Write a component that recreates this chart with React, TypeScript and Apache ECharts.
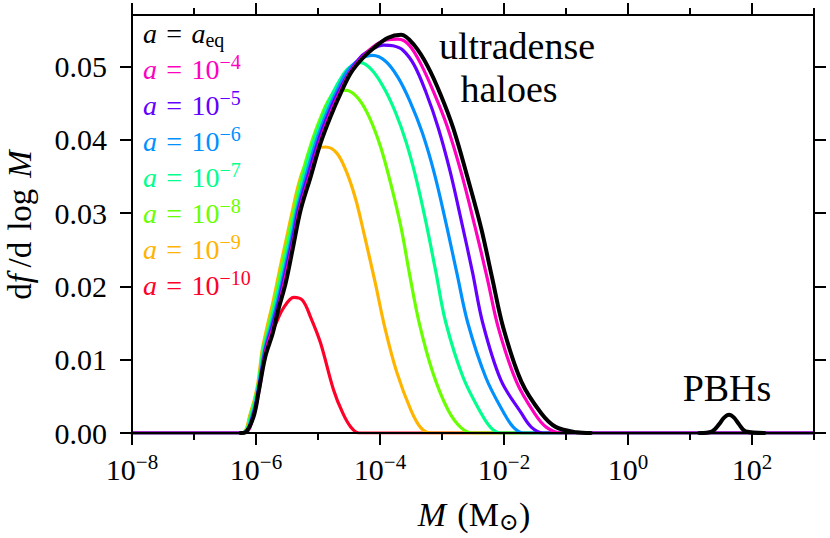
import React, { useEffect, useRef } from 'react';
import * as echarts from 'echarts';

const FONT = "'Liberation Serif', 'DejaVu Serif', serif";

// axes (x is log10 of M in solar masses)
const X_MIN = -8;
const X_MAX = 3;
const xMajorTicks = [-8, -6, -4, -2, 0, 2];
const xMinorTicks = [-7, -5, -3, -1, 1, 3];
const Y_MIN = 0;
const Y_MAX = 0.057;
const yTicks = [0, 0.01, 0.02, 0.03, 0.04, 0.05];

// legend entries: exponent of a (null -> a_eq)
const legendExponents: (number | null)[] = [null, -4, -5, -6, -7, -8, -9, -10];
const seriesColors = ['#000000', '#ff00bf', '#6400ff', '#0091ff', '#00ff8c', '#6aff00', '#ffb400', '#ff0029'];
const seriesWidths = [4, 3.2, 3.2, 3.2, 3.2, 3.2, 3.2, 3.2];

// [log10 M, df/dlogM]
const aEq: (number | null)[][] = [
  [-6.25, 0], [-6.17, 0.0001], [-6.04, 0.0022], [-5.96, 0.0055], [-5.85, 0.0104], [-5.73, 0.0136],
  [-5.64, 0.0168], [-5.52, 0.0205], [-5.41, 0.025], [-5.28, 0.0304], [-5.12, 0.0349], [-4.96, 0.0395],
  [-4.8, 0.0431], [-4.63, 0.0464], [-4.47, 0.0491], [-4.28, 0.0511], [-4.1, 0.0525], [-3.87, 0.0539],
  [-3.66, 0.0543], [-3.45, 0.0529], [-3.23, 0.05], [-3.02, 0.0461], [-2.82, 0.0416], [-2.6, 0.0352],
  [-2.37, 0.028], [-2.19, 0.0211], [-2.01, 0.0143], [-1.72, 0.007], [-1.4, 0.0027], [-1.16, 0.0008],
  [-0.83, 0.0001], [-0.6, 0], [-0.5, null], [1.1, null],
  [1.15, 0], [1.35, 0.0002], [1.47, 0.0012], [1.55, 0.0021], [1.63, 0.0025], [1.71, 0.0021],
  [1.79, 0.0012], [1.9, 0.0002], [2.2, 0],
];
const a1e4 = [
  [-8, 0], [-6.2, 0], [-6.03, 0.0027], [-5.94, 0.0063], [-5.84, 0.0113], [-5.72, 0.0145], [-5.61, 0.0181],
  [-5.49, 0.0226], [-5.37, 0.0273], [-5.3, 0.0304], [-5.12, 0.0355], [-4.96, 0.04], [-4.8, 0.0436],
  [-4.65, 0.0464], [-4.49, 0.0491], [-4.3, 0.0511], [-4.12, 0.0526], [-3.9, 0.0536], [-3.71, 0.0537],
  [-3.53, 0.0529], [-3.34, 0.0503], [-3.13, 0.0464], [-2.92, 0.0419], [-2.69, 0.0355], [-2.47, 0.0282],
  [-2.27, 0.0211], [-2.09, 0.0143], [-1.8, 0.007], [-1.51, 0.0027], [-1.32, 0.0008], [-1.07, 0], [3, 0],
];
const a1e5 = [
  [-8, 0], [-6.21, 0], [-6.04, 0.0027], [-5.95, 0.0063], [-5.85, 0.0113], [-5.74, 0.0145], [-5.63, 0.0181],
  [-5.51, 0.0226], [-5.39, 0.0273], [-5.32, 0.0304], [-5.15, 0.0355], [-4.99, 0.04], [-4.83, 0.0436],
  [-4.68, 0.0464], [-4.5, 0.0491], [-4.31, 0.0513], [-4.12, 0.0524], [-3.94, 0.0529], [-3.79, 0.0528],
  [-3.63, 0.0522], [-3.45, 0.0502], [-3.26, 0.0465], [-3.06, 0.0416], [-2.87, 0.0357], [-2.69, 0.029],
  [-2.51, 0.022], [-2.34, 0.0149], [-2.05, 0.0072], [-1.72, 0.0027], [-1.56, 0.0008], [-1.37, 0], [3, 0],
];
const a1e6 = [
  [-8, 0], [-6.22, 0], [-6.05, 0.0027], [-5.96, 0.0063], [-5.86, 0.0113], [-5.76, 0.0145], [-5.65, 0.0181],
  [-5.53, 0.0226], [-5.41, 0.0273], [-5.34, 0.0304], [-5.18, 0.0355], [-5.02, 0.04], [-4.86, 0.0436],
  [-4.71, 0.0464], [-4.54, 0.0492], [-4.34, 0.0509], [-4.12, 0.0515], [-3.91, 0.0507], [-3.71, 0.0485],
  [-3.52, 0.0453], [-3.32, 0.041], [-3.13, 0.0356], [-2.94, 0.0288], [-2.76, 0.0218], [-2.58, 0.0149],
  [-2.29, 0.0075], [-2.0, 0.0027], [-1.85, 0.0008], [-1.69, 0], [3, 0],
];
const a1e7 = [
  [-8, 0], [-6.23, 0], [-6.07, 0.0027], [-5.97, 0.0063], [-5.88, 0.0113], [-5.78, 0.0145], [-5.68, 0.0181],
  [-5.56, 0.0226], [-5.44, 0.0273], [-5.36, 0.0304], [-5.22, 0.0355], [-5.06, 0.04], [-4.9, 0.0436],
  [-4.76, 0.0464], [-4.63, 0.0484], [-4.5, 0.0498], [-4.31, 0.0505], [-4.12, 0.0494], [-3.92, 0.0468],
  [-3.74, 0.0435], [-3.58, 0.0397], [-3.42, 0.0348], [-3.26, 0.0288], [-3.1, 0.022], [-2.94, 0.0151],
  [-2.66, 0.0076], [-2.37, 0.0027], [-2.21, 0.0007], [-2.05, 0], [3, 0],
];
const a1e8 = [
  [-8, 0], [-6.23, 0], [-6.08, 0.0027], [-5.97, 0.0063], [-5.89, 0.0113], [-5.8, 0.0145], [-5.7, 0.0181],
  [-5.59, 0.0226], [-5.47, 0.0273], [-5.39, 0.0304], [-5.25, 0.0355], [-5.09, 0.04], [-4.93, 0.0436],
  [-4.8, 0.0458], [-4.67, 0.0468], [-4.52, 0.0467], [-4.34, 0.0455], [-4.17, 0.043], [-3.99, 0.039],
  [-3.83, 0.0341], [-3.66, 0.028], [-3.52, 0.0215], [-3.37, 0.0151], [-3.15, 0.0083], [-2.9, 0.0031],
  [-2.69, 0.0007], [-2.5, 0], [3, 0],
];
const a1e9 = [
  [-8, 0], [-6.24, 0], [-6.09, 0.0027], [-5.98, 0.0063], [-5.9, 0.0113], [-5.82, 0.0145], [-5.72, 0.0181],
  [-5.61, 0.0226], [-5.49, 0.0273], [-5.41, 0.0304], [-5.33, 0.0334], [-5.24, 0.0359], [-5.13, 0.0377],
  [-5.01, 0.0388], [-4.88, 0.039], [-4.7, 0.0382], [-4.54, 0.0356], [-4.39, 0.0318], [-4.25, 0.0269],
  [-4.08, 0.0206], [-3.92, 0.0143], [-3.73, 0.0083], [-3.5, 0.0031], [-3.34, 0.0007], [-3.18, 0], [3, 0],
];
const a1e10 = [
  [-8, 0], [-6.22, 0], [-6.09, 0.0025], [-5.98, 0.0059], [-5.88, 0.0104], [-5.78, 0.013], [-5.67, 0.0151],
  [-5.56, 0.017], [-5.39, 0.0185], [-5.25, 0.0181], [-5.12, 0.0158], [-4.96, 0.0123], [-4.75, 0.0059],
  [-4.6, 0.0027], [-4.47, 0.0008], [-4.34, 0], [3, 0],
];
const seriesData = [aEq, a1e4, a1e5, a1e6, a1e7, a1e8, a1e9, a1e10];

const annotations = [
  { text: 'ultradense', x: 517, y: 46 },
  { text: 'haloes', x: 509, y: 89 },
  { text: 'PBHs', x: 727, y: 388 },
];

const richBase = (size: number) => ({
  i: { fontFamily: FONT, fontStyle: 'italic', fontSize: size, lineHeight: size + 6 },
  r: { fontFamily: FONT, fontSize: size, lineHeight: size + 6 },
  sup: { fontFamily: FONT, fontSize: Math.round(size * 0.72), lineHeight: Math.round(size * 0.6), verticalAlign: 'top' },
  sub: { fontFamily: FONT, fontSize: Math.round(size * 0.72), lineHeight: Math.round(size * 0.68), verticalAlign: 'bottom' },
});

const EQ = '\u2004=\u2004';
const legendLabel = (e: number | null) =>
  e === null ? `{i|a}{r|${EQ}}{i|a}{sub|eq}` : `{i|a}{r|${EQ}10}{sup|\u2212${-e}}`;
const legendName = (e: number | null) => (e === null ? 'a = a_eq' : `a = 10^${e}`);

const powLabel = (v: number) => `{b|10}{s|${v < 0 ? '\u2212' + -v : v}}`;

export default function App() {
  const ref = useRef<HTMLDivElement>(null);
  useEffect(() => {
    if (!ref.current) return;
    const chart = echarts.init(ref.current, undefined, { renderer: 'svg' });
    const axisLineStyle = { color: '#000', width: 2 };
    const xAxisCommon = {
      type: 'value', min: X_MIN, max: X_MAX, z: 5,
      axisLine: { show: true, onZero: false, lineStyle: axisLineStyle },
      splitLine: { show: false },
    };
    const yAxisCommon = {
      type: 'value', min: Y_MIN, max: Y_MAX, z: 5,
      axisLine: { show: true, onZero: false, lineStyle: axisLineStyle },
      splitLine: { show: false },
    };
    const series: any[] = [];
    for (let i = seriesData.length - 1; i >= 0; i--) {
      series.push({
        name: legendName(legendExponents[i]),
        type: 'line',
        data: seriesData[i],
        showSymbol: false,
        smooth: 0.35,
        connectNulls: false,
        clip: true,
        lineStyle: { color: seriesColors[i], width: seriesWidths[i], join: 'round', cap: 'round' },
        itemStyle: { color: seriesColors[i] },
      });
    }
    const graphic: any[] = [];
    legendExponents.forEach((e, i) => {
      graphic.push({
        type: 'text', x: 143, y: 33 + 36 * i, z: 10,
        style: {
          text: legendLabel(e), rich: richBase(28), fill: seriesColors[i],
          fontFamily: FONT, fontSize: 28, align: 'left', verticalAlign: 'middle',
        },
      });
    });
    annotations.forEach((a) => {
      graphic.push({
        type: 'text', x: a.x, y: a.y, z: 10,
        style: { text: a.text, fill: '#000', fontFamily: FONT, fontSize: 38, align: 'center', verticalAlign: 'middle' },
      });
    });
    graphic.push({
      type: 'text', x: 474, y: 514, z: 10,
      style: { text: `{i|M}{r|\u2004(M}{sub|\u2299}{r|)}`, rich: richBase(34), fill: '#000', fontFamily: FONT, fontSize: 34, align: 'center', verticalAlign: 'middle' },
    });
    graphic.push({
      type: 'text', x: 20, y: 225, rotation: Math.PI / 2, z: 10,
      style: { text: '{r|d}{i|f\u2009}{r|/d\u2004log\u2004}{i|M}', rich: richBase(33), fill: '#000', fontFamily: FONT, fontSize: 33, align: 'center', verticalAlign: 'middle' },
    });

    chart.setOption({
      animation: false,
      backgroundColor: '#fff',
      grid: { left: 132, right: 16, top: 15, bottom: 105, containLabel: false },
      xAxis: [
        {
          ...xAxisCommon, position: 'bottom',
          axisTick: { show: true, inside: false, length: 12, lineStyle: axisLineStyle, customValues: xMajorTicks },
          axisLabel: {
            show: true, margin: 18, customValues: xMajorTicks, formatter: powLabel, color: '#000',
            rich: {
              b: { fontFamily: FONT, fontSize: 30, lineHeight: 36, color: '#000' },
              s: { fontFamily: FONT, fontSize: 21, lineHeight: 19, verticalAlign: 'top', color: '#000' },
            },
          },
        },
        {
          ...xAxisCommon, position: 'bottom',
          axisTick: { show: true, inside: false, length: 7, lineStyle: axisLineStyle, customValues: xMinorTicks },
          axisLabel: { show: false },
        },
        {
          ...xAxisCommon, position: 'top',
          axisTick: { show: true, inside: false, length: 12, lineStyle: axisLineStyle, customValues: xMajorTicks },
          axisLabel: { show: false },
        },
        {
          ...xAxisCommon, position: 'top',
          axisTick: { show: true, inside: false, length: 7, lineStyle: axisLineStyle, customValues: xMinorTicks },
          axisLabel: { show: false },
        },
      ],
      yAxis: [
        {
          ...yAxisCommon, position: 'left',
          axisTick: { show: true, inside: false, length: 12, lineStyle: axisLineStyle, customValues: yTicks },
          axisLabel: {
            show: true, margin: 25, customValues: yTicks, color: '#000', fontFamily: FONT, fontSize: 30,
            formatter: (v: number) => v.toFixed(2),
          },
        },
        {
          ...yAxisCommon, position: 'right',
          axisTick: { show: true, inside: false, length: 12, lineStyle: axisLineStyle, customValues: yTicks },
          axisLabel: { show: false },
        },
      ],
      series: series.map((s) => ({ ...s, xAxisIndex: 0, yAxisIndex: 0 })),
      graphic,
    });
    return () => chart.dispose();
  }, []);
  return <div ref={ref} style={{ position: 'fixed', left: 0, top: 0, width: 830, height: 538 }} />;
}
